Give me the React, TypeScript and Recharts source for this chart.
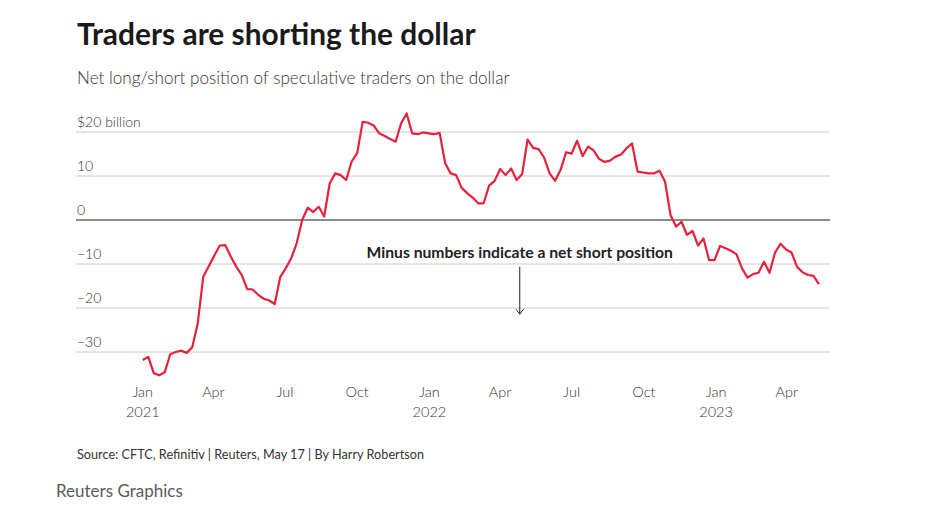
import React from 'react';
import { LineChart, Line, XAxis, YAxis, ReferenceLine } from 'recharts';

// Weekly CFTC net long/short position on the dollar, $ billion (weekly, first week below)
const FIRST_WEEK = '2021-01-01';
const netPosition: number[] = [
  -31.8, -31.1, -34.8, -35.3, -34.6, -30.5, -30.0, -29.7, -30.2, -28.9,
  -23.5, -12.9, -10.5, -8.1, -5.8, -5.7, -8.3, -10.6, -12.5, -15.7,
  -15.8, -17.0, -17.9, -18.3, -19.1, -13.0, -11.0, -8.7, -5.3, 0.0,
  2.8, 1.8, 3.0, 0.8, 8.3, 10.6, 10.2, 9.1, 13.3, 15.2,
  22.3, 22.1, 21.5, 19.7, 19.1, 18.4, 17.8, 22.0, 24.2, 19.7,
  19.5, 19.9, 19.7, 19.5, 19.8, 12.9, 10.6, 10.2, 7.3, 6.1,
  5.1, 3.8, 3.8, 7.8, 8.9, 11.6, 10.2, 11.7, 9.1, 10.4,
  18.3, 16.4, 16.1, 14.2, 10.6, 8.9, 11.4, 15.4, 15.1, 18.0,
  14.5, 16.7, 15.8, 13.9, 13.2, 13.5, 14.4, 14.9, 16.3, 17.4,
  11.0, 10.8, 10.6, 10.6, 11.2, 8.7, 1.1, -1.5, -0.4, -3.4,
  -2.5, -5.8, -4.2, -9.1, -9.1, -5.9, -6.4, -7.0, -7.8, -11.0,
  -13.1, -12.3, -12.0, -9.5, -12.0, -7.4, -5.4, -6.7, -7.4, -10.6,
  -11.9, -12.5, -12.7, -14.6,
];

const yTicks = [-30, -20, -10, 0, 10, 20];
const yTickLabels = ['\u221230', '\u221220', '\u221210', '0', '10', '$20 billion'];

const xTickDates = [
  '2021-01-01', '2021-04-01', '2021-07-01', '2021-10-01',
  '2022-01-01', '2022-04-01', '2022-07-01', '2022-10-01',
  '2023-01-01', '2023-04-01',
];
const xTickMonths = ['Jan', 'Apr', 'Jul', 'Oct', 'Jan', 'Apr', 'Jul', 'Oct', 'Jan', 'Apr'];
const xTickYears = ['2021', '', '', '', '2022', '', '', '', '2023', ''];

const TITLE = 'Traders are shorting the dollar';
const SUBTITLE = 'Net long/short position of speculative traders on the dollar';
const NOTE = 'Minus numbers indicate a net short position';
const NOTE_DATE = '2022-04-26';
const SOURCE = 'Source: CFTC, Refinitiv | Reuters, May 17 | By Harry Robertson';
const BRAND = 'Reuters Graphics';

const DAY_MS = 86400000;
const BASE = Date.UTC(2021, 0, 1);
const toDay = (s: string) => (Date.parse(s + 'T00:00:00Z') - BASE) / DAY_MS;

const firstDay = toDay(FIRST_WEEK);
const data = netPosition.map((v, i) => ({ day: firstDay + 7 * i, value: v }));
const xTicks = xTickDates.map(toDay);

const FONT = 'Lato, "Source Sans Pro", "Noto Sans", sans-serif';

const YTick = (props: any) => {
  const { y, payload } = props;
  const idx = yTicks.indexOf(payload.value);
  return (
    <text x={77} y={y - 5} fill="#333" fontSize={14} fontFamily={FONT} fontWeight={300} textAnchor="start">
      {yTickLabels[idx]}
    </text>
  );
};

const XTick = (props: any) => {
  const { x, payload } = props;
  const idx = xTicks.indexOf(payload.value);
  return (
    <g>
      <text x={x} y={397} fill="#333" fontSize={14.5} fontFamily={FONT} fontWeight={300} textAnchor="middle">
        {xTickMonths[idx]}
      </text>
      {xTickYears[idx] ? (
        <text x={x} y={416.5} fill="#333" fontSize={14.5} fontFamily={FONT} fontWeight={300} textAnchor="middle">
          {xTickYears[idx]}
        </text>
      ) : null}
    </g>
  );
};

const NoteLabel = (props: any) => {
  const { viewBox } = props;
  const x = viewBox.x;
  return (
    <text x={x} y={257.5} fill="#222" fontSize={15.7} fontWeight={700} fontFamily={FONT} textAnchor="middle">
      {NOTE}
    </text>
  );
};

export default function App() {
  return (
    <div style={{ position: 'absolute', left: 0, top: 0, width: 940, height: 515, background: '#fff', overflow: 'hidden' }}>
      <svg width={940} height={130} style={{ position: 'absolute', left: 0, top: 0 }}>
        <text x={77} y={45} fontSize={29.9} fontWeight={700} fill="#1a1a1a" fontFamily={FONT}>
          {TITLE}
        </text>
        <text x={77} y={84} fontSize={17.1} fontWeight={300} fill="#333" fontFamily={FONT}>
          {SUBTITLE}
        </text>
      </svg>
      <div style={{ position: 'absolute', left: 0, top: 0 }}>
        <LineChart
          width={940}
          height={515}
          data={data}
          margin={{ top: 110, right: 110, bottom: 135.6, left: 75 }}
        >
          <XAxis
            dataKey="day"
            type="number"
            domain={[-85, 875]}
            allowDataOverflow
            ticks={xTicks}
            tick={<XTick />}
            axisLine={false}
            tickLine={false}
            height={1}
            interval={0}
          />
          <YAxis
            type="number"
            domain={[-36, 25]}
            allowDataOverflow
            ticks={yTicks}
            tick={<YTick />}
            axisLine={false}
            tickLine={false}
            width={1}
            interval={0}
          />
          {yTicks.map((t) => (
            <ReferenceLine
              key={t}
              y={t}
              stroke={t === 0 ? '#1a1a1a' : '#cccccc'}
              strokeWidth={t === 0 ? 1.2 : 1}
            />
          ))}
          <ReferenceLine
            segment={[
              { x: toDay(NOTE_DATE), y: -10.6 },
              { x: toDay(NOTE_DATE), y: -21.4 },
            ]}
            stroke="#222"
            strokeWidth={1}
            label={<NoteLabel />}
          />
          <ReferenceLine
            segment={[
              { x: toDay(NOTE_DATE) - 4.7, y: -20.3 },
              { x: toDay(NOTE_DATE), y: -21.4 },
            ]}
            stroke="#222"
            strokeWidth={1}
          />
          <ReferenceLine
            segment={[
              { x: toDay(NOTE_DATE) + 4.7, y: -20.3 },
              { x: toDay(NOTE_DATE), y: -21.4 },
            ]}
            stroke="#222"
            strokeWidth={1}
          />
          <Line
            type="linear"
            dataKey="value"
            stroke="#e5213b"
            strokeWidth={2.2}
            dot={false}
            strokeLinejoin="round"
            isAnimationActive={false}
          />
        </LineChart>
      </div>
      <svg width={940} height={80} style={{ position: 'absolute', left: 0, top: 435 }}>
        <text x={77} y={24} fontSize={12.7} fontWeight={400} fill="#333" fontFamily={FONT}>
          {SOURCE}
        </text>
        <text x={56} y={62} fontSize={17} fontWeight={400} fill="#5a5a5a" fontFamily={FONT}>
          {BRAND}
        </text>
      </svg>
    </div>
  );
}
